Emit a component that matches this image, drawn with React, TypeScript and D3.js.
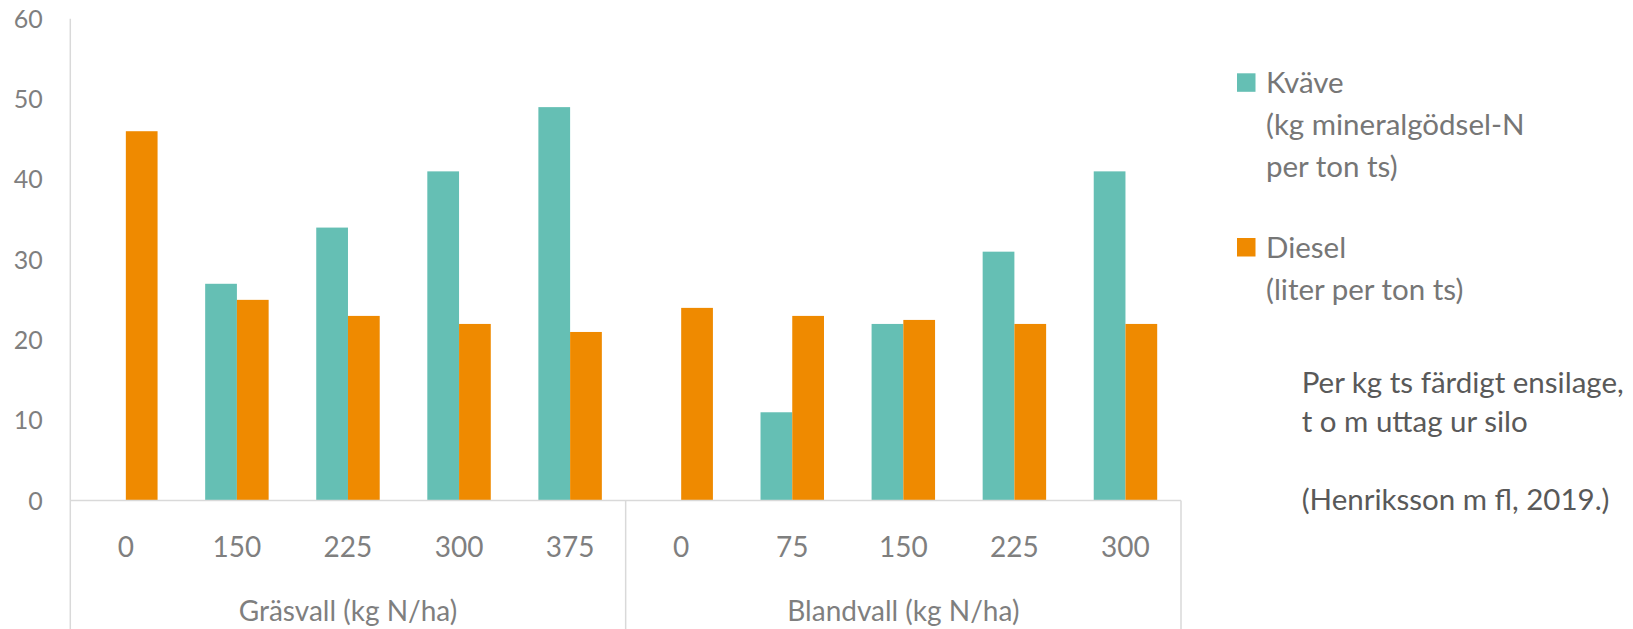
import React from "react";
import * as d3 from "d3";

const categories = ["0", "150", "225", "300", "375", "0", "75", "150", "225", "300"];
const groups = ["Gräsvall (kg N/ha)", "Blandvall (kg N/ha)"];
const groupSizes = [5, 5];
const kvave = [0, 27, 34, 41, 49, 0, 11, 22, 31, 41];
const diesel = [46, 25, 23, 22, 21, 24, 23, 22.5, 22, 22];
const yTicks = [0, 10, 20, 30, 40, 50, 60];
const legendItems = [
  { lines: ["Kväve", "(kg mineralgödsel-N", "per ton ts)"], color: "#65BFB4" },
  { lines: ["Diesel", "(liter per ton ts)"], color: "#EF8A00" },
];
const noteLines = ["Per kg ts färdigt ensilage,", "t o m uttag ur silo", "", "(Henriksson m fl, 2019.)"];

const W = 1633;
const H = 629;
const FONT = "Lato, 'Open Sans', sans-serif";

export default function App() {
  const x0 = 70.3;
  const x1 = 1181;
  const yZero = 500.6;
  const yTop = 18.8;
  const x = d3
    .scaleBand<number>()
    .domain(d3.range(categories.length))
    .range([x0, x1])
    .paddingInner(0)
    .paddingOuter(0);
  const y = d3.scaleLinear().domain([0, 60]).range([yZero, yTop]);
  const bw = x.bandwidth() / 3.5;
  const axisColor = "#D9D9D9";
  const tickColor = "#7F7F7F";

  let acc = 0;
  const groupBounds = groupSizes.map((n) => {
    const start = acc;
    acc += n;
    return { start, end: acc };
  });

  return (
    <svg
      width={W}
      height={H}
      style={{ position: "absolute", left: 0, top: 0, background: "#fff" }}
      fontFamily={FONT}
    >
      {categories.map((_, i) => {
        const cx = (x(i) as number) + x.bandwidth() / 2;
        return (
          <g key={i}>
            {kvave[i] > 0 && (
              <rect x={cx - bw} y={y(kvave[i])} width={bw} height={yZero - y(kvave[i])} fill="#65BFB4" />
            )}
            {diesel[i] > 0 && (
              <rect x={cx} y={y(diesel[i])} width={bw} height={yZero - y(diesel[i])} fill="#EF8A00" />
            )}
          </g>
        );
      })}
      <line x1={x0} x2={x1} y1={yZero} y2={yZero} stroke={axisColor} strokeWidth={1.5} />
      <line x1={x0} x2={x0} y1={yTop} y2={H} stroke={axisColor} strokeWidth={1.5} />
      {groupBounds.map((g, gi) => {
        const xe = gi === groupBounds.length - 1 ? x1 : (x(g.end) as number);
        return <line key={gi} x1={xe} x2={xe} y1={yZero} y2={H} stroke={axisColor} strokeWidth={1.5} />;
      })}
      {yTicks.map((t) => (
        <text key={t} x={42.7} y={y(t)} dy="0.36em" textAnchor="end" fontSize={25} fill={tickColor}>
          {t}
        </text>
      ))}
      {categories.map((c, i) => (
        <text
          key={i}
          x={(x(i) as number) + x.bandwidth() / 2}
          y={556.7}
          textAnchor="middle"
          fontSize={28}
          fill={tickColor}
        >
          {c}
        </text>
      ))}
      {groupBounds.map((g, gi) => {
        const xs = x(g.start) as number;
        const xe = gi === groupBounds.length - 1 ? x1 : (x(g.end) as number);
        return (
          <text key={gi} x={(xs + xe) / 2} y={621} textAnchor="middle" fontSize={28} fill={tickColor}>
            {groups[gi]}
          </text>
        );
      })}
      {legendItems.map((item, li) => {
        const base = li === 0 ? 93.3 : 258;
        return (
          <g key={li}>
            <rect x={1237} y={base - 20} width={18.5} height={18.5} fill={item.color} />
            {item.lines.map((l, k) => (
              <text key={k} x={1266} y={base + k * 41.7} fontSize={29.5} fill="#767676">
                {l}
              </text>
            ))}
          </g>
        );
      })}
      {noteLines.map((l, k) => (
        <text key={k} x={1301.7} y={393 + k * 39} fontSize={29.5} fill="#595959">
          {l}
        </text>
      ))}
    </svg>
  );
}
